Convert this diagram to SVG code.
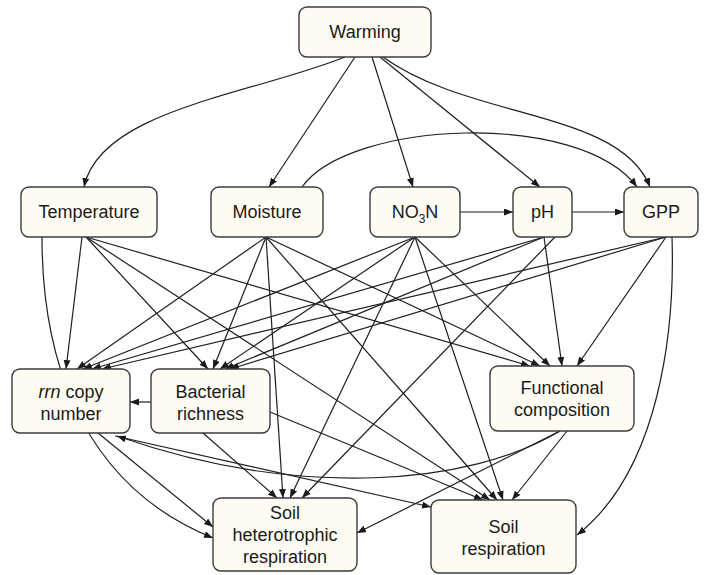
<svg xmlns="http://www.w3.org/2000/svg" width="710" height="575" viewBox="0 0 710 575">
<defs>
<marker id="ah" markerUnits="userSpaceOnUse" markerWidth="10" markerHeight="8" refX="9" refY="3.5" orient="auto">
<path d="M0,0 L9,3.5 L0,7 z" fill="#1a1a1a"/>
</marker>
<style>
.n rect{fill:#fffcf4;stroke:#3c3c3c;stroke-width:1.4}
.n text{font-family:"Liberation Sans",Arial,sans-serif;font-size:18px;fill:#1a1a1a;text-anchor:middle}
#edges path{fill:none;stroke:#1f1f1f;stroke-width:1.2;marker-end:url(#ah)}
</style>
</defs>
<rect width="710" height="575" fill="#ffffff"/>
<g id="edges">
<path d="M345,57 C250,95 100,110 84,187"/>
<path d="M355,57 L269,187"/>
<path d="M372,57 L413,187"/>
<path d="M380,57 L540,187"/>
<path d="M383,57 C470,120 620,110 650,187"/>
<path d="M302,187 C350,120 580,110 637,187"/>
<path d="M460,212 L513,212"/>
<path d="M572,212 L624,212"/>
<path d="M82,237 L66,369"/>
<path d="M42,237 C42,340 70,480 213,538"/>
<path d="M86,237 L208,369"/>
<path d="M86,237 L530,366"/>
<path d="M86,237 L490,500"/>
<path d="M266,237 L77,369"/>
<path d="M266,237 L213,369"/>
<path d="M266,237 L283,498"/>
<path d="M266,237 L540,366"/>
<path d="M266,237 L497,500"/>
<path d="M415,237 L83,369"/>
<path d="M415,237 L220,369"/>
<path d="M415,237 L290,498"/>
<path d="M415,237 L550,366"/>
<path d="M415,237 L503,500"/>
<path d="M544,237 L92,369"/>
<path d="M544,237 L225,369"/>
<path d="M555,237 L302,498"/>
<path d="M544,237 L562,366"/>
<path d="M666,237 L102,369"/>
<path d="M666,237 L230,369"/>
<path d="M666,237 L577,366"/>
<path d="M672,237 C675,330 660,470 577,535"/>
<path d="M151,402 L130,402"/>
<path d="M203,433 L277,498"/>
<path d="M270,412 L483,500"/>
<path d="M98,433 L213,527"/>
<path d="M115,436 L431,507"/>
<path d="M560,431 C470,485 300,500 117,436"/>
<path d="M560,431 L357,533"/>
<path d="M567,431 L512,500"/>
</g>
<g id="warming" class="n"><rect x="299" y="7" width="132" height="50" rx="8"/><text x="365" y="38">Warming</text></g>
<g id="temperature" class="n"><rect x="21" y="187" width="136" height="50" rx="8"/><text x="89" y="218">Temperature</text></g>
<g id="moisture" class="n"><rect x="211" y="187" width="112" height="50" rx="8"/><text x="267" y="218">Moisture</text></g>
<g id="no3n" class="n"><rect x="370" y="187" width="90" height="50" rx="8"/><text x="415" y="218">NO<tspan font-size="12" dy="5">3</tspan><tspan dy="-5">N</tspan></text></g>
<g id="ph" class="n"><rect x="513" y="187" width="59" height="50" rx="8"/><text x="542.5" y="218">pH</text></g>
<g id="gpp" class="n"><rect x="624" y="187" width="74" height="50" rx="8"/><text x="661" y="218">GPP</text></g>
<g id="rrn" class="n"><rect x="12" y="369" width="118" height="64" rx="8"/><text x="71" y="398"><tspan font-style="italic">rrn</tspan> copy</text><text x="71" y="420">number</text></g>
<g id="bacterial" class="n"><rect x="151" y="369" width="119" height="64" rx="8"/><text x="210.5" y="398">Bacterial</text><text x="210.5" y="420">richness</text></g>
<g id="functional" class="n"><rect x="490" y="366" width="144" height="65" rx="8"/><text x="562" y="394">Functional</text><text x="562" y="416">composition</text></g>
<g id="shr" class="n"><rect x="213" y="498" width="144" height="73" rx="8"/><text x="285" y="519">Soil</text><text x="285" y="541">heterotrophic</text><text x="285" y="563">respiration</text></g>
<g id="sr" class="n"><rect x="431" y="500" width="145" height="73" rx="8"/><text x="503.5" y="533">Soil</text><text x="503.5" y="555">respiration</text></g>
</svg>
